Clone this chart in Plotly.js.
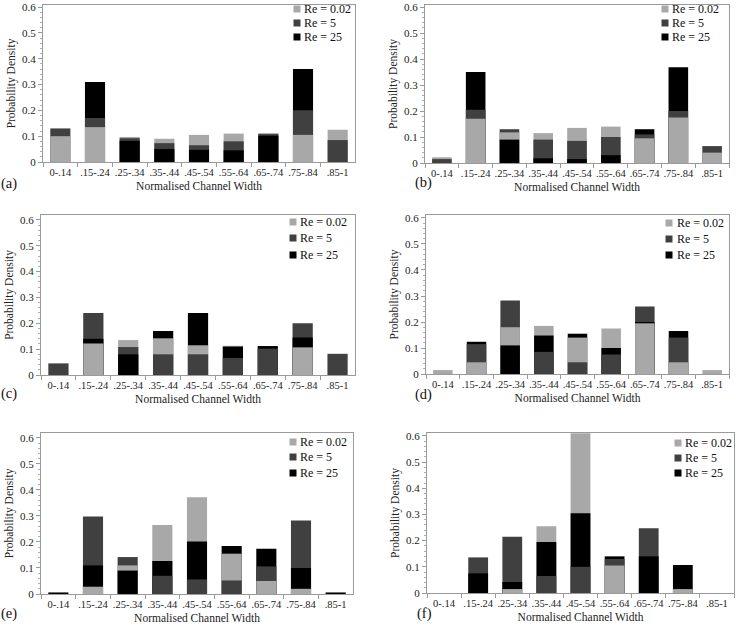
<!DOCTYPE html>
<html>
<head>
<meta charset="utf-8">
<script src="https://cdn.plot.ly/plotly-3.0.1.min.js"></script>
<style>html,body{margin:0;padding:0;background:#fff;}#chart{width:737px;height:628px;}</style>
</head>
<body>
<div id="chart"></div>
<script>
// ---- data ----
const categories = ['0-.14', '.15-.24', '.25-.34', '.35-.44', '.45-.54', '.55-.64', '.65-.74', '.75-.84', '.85-1'];
const seriesNames = ['Re = 0.02', 'Re = 5', 'Re = 25'];
const panelLabels = ['(a)', '(b)', '(c)', '(d)', '(e)', '(f)'];

const a_re002 = [0.100, 0.135, 0.097, 0.090, 0.105, 0.110, 0.112, 0.105, 0.125];
const a_re5   = [0.130, 0.170, 0.092, 0.073, 0.065, 0.080, 0.108, 0.200, 0.085];
const a_re25  = [0.000, 0.310, 0.082, 0.050, 0.047, 0.045, 0.102, 0.360, 0.000];

const b_re002 = [0.022, 0.170, 0.118, 0.115, 0.135, 0.140, 0.095, 0.175, 0.040];
const b_re5   = [0.015, 0.205, 0.130, 0.090, 0.085, 0.100, 0.110, 0.200, 0.065];
const b_re25  = [0.000, 0.350, 0.090, 0.018, 0.015, 0.030, 0.130, 0.368, 0.000];

const c_re002 = [0.000, 0.122, 0.135, 0.142, 0.115, 0.113, 0.000, 0.107, 0.000];
const c_re5   = [0.045, 0.240, 0.108, 0.080, 0.080, 0.066, 0.102, 0.200, 0.082];
const c_re25  = [0.000, 0.140, 0.080, 0.170, 0.240, 0.110, 0.112, 0.145, 0.000];

const d_re002 = [0.015, 0.045, 0.180, 0.185, 0.140, 0.175, 0.195, 0.045, 0.015];
const d_re5   = [0.000, 0.115, 0.283, 0.085, 0.045, 0.075, 0.260, 0.140, 0.000];
const d_re25  = [0.000, 0.124, 0.110, 0.148, 0.155, 0.100, 0.200, 0.165, 0.000];

const e_re002 = [0.000, 0.028, 0.110, 0.265, 0.372, 0.155, 0.050, 0.020, 0.000];
const e_re5   = [0.000, 0.298, 0.142, 0.070, 0.056, 0.052, 0.106, 0.283, 0.000];
const e_re25  = [0.006, 0.110, 0.090, 0.127, 0.202, 0.185, 0.174, 0.100, 0.006];

const f_re002 = [0.000, 0.000, 0.015, 0.255, 0.610, 0.105, 0.000, 0.015, 0.000];
const f_re5   = [0.000, 0.136, 0.215, 0.065, 0.100, 0.130, 0.247, 0.000, 0.000];
const f_re25  = [0.000, 0.075, 0.042, 0.195, 0.305, 0.140, 0.140, 0.107, 0.000];

const panelSeries = [
  [a_re002, a_re5, a_re25],
  [b_re002, b_re5, b_re25],
  [c_re002, c_re5, c_re25],
  [d_re002, d_re5, d_re25],
  [e_re002, e_re5, e_re25],
  [f_re002, f_re5, f_re25]
];

// ---- styling / layout ----
const colors = ['#a8a8a8', '#404040', '#000000'];
const FONT = '"Liberation Serif", "Times New Roman", Times, serif';
const W = 737, H = 628;
// plot-area boxes in pixels: [left, right, zeroY, topY, yMax]
const boxes = [
  [43, 355, 162, 5, 0.608],
  [425, 729, 163, 5, 0.608],
  [41, 355, 375, 215, 0.619],
  [426, 729, 374, 215, 0.6115],
  [41, 353, 594, 433, 0.619],
  [427, 734, 593, 433, 0.611]
];
// legend placement in pixels: [marker centre x, text left x, row centre ys]
const legendPos = [
  [297, 302, [9, 23, 37]],
  [665, 670, [9, 23, 37]],
  [293, 298, [222, 238, 255]],
  [669, 675, [223, 239, 255]],
  [293, 298, [442, 457, 473]],
  [678, 683, [443, 458, 473]]
];
const labelPos = [[9, 183], [423, 182], [9, 393], [423, 394], [9, 613], [424, 613]];

const traces = [];
const layout = {
  width: W, height: H,
  margin: {l: 0, r: 0, t: 0, b: 0},
  paper_bgcolor: '#ffffff',
  plot_bgcolor: '#ffffff',
  barmode: 'overlay',
  bargap: 0.42,
  font: {family: FONT, size: 11, color: '#222'},
  showlegend: false,
  annotations: [],
  shapes: []
};

panelSeries.forEach((series, p) => {
  const suf = p === 0 ? '' : String(p + 1);
  const xa = 'x' + suf, ya = 'y' + suf;
  const [l, r, z, t, ymax] = boxes[p];

  // overlay bars: per category the tallest is drawn first, the shortest in front
  for (let k = 0; k < 3; k++) {
    const ys = [], cs = [], names = [];
    categories.forEach((c, j) => {
      const vals = series.map((s, si) => ({v: s[j], c: colors[si], n: seriesNames[si]}));
      vals.sort((m, n) => n.v - m.v);
      ys.push(vals[k].v);
      cs.push(vals[k].c);
      names.push(vals[k].n);
    });
    traces.push({
      type: 'bar', x: categories, y: ys, xaxis: xa, yaxis: ya,
      text: names, textposition: 'none',
      marker: {color: cs, line: {width: 0}},
      showlegend: false, hoverinfo: 'x+y+text'
    });
  }

  layout['xaxis' + suf] = {
    domain: [l / W, r / W], anchor: ya,
    type: 'category', categoryorder: 'array', categoryarray: categories,
    range: [-0.5, 8.5],
    showline: true, linecolor: '#9a9a9a', linewidth: 1, mirror: true,
    ticks: 'outside', tickson: 'boundaries', ticklen: 4, tickcolor: '#9a9a9a',
    tickangle: 0,
    showgrid: false, zeroline: false,
    tickfont: {family: FONT, size: 10.5, color: '#222'},
    title: {text: 'Normalised Channel Width', font: {family: FONT, size: 11.5, color: '#222'}, standoff: 5}
  };
  layout['yaxis' + suf] = {
    domain: [1 - z / H, 1 - t / H], anchor: xa,
    range: [0, ymax],
    dtick: 0.1, tick0: 0,
    showline: true, linecolor: '#9a9a9a', linewidth: 1, mirror: true,
    ticks: 'outside', ticklen: 4, tickcolor: '#9a9a9a',
    minor: {dtick: 0.02, ticks: 'outside', ticklen: 2, tickcolor: '#b0b0b0'},
    showgrid: false, zeroline: false,
    tickfont: {family: FONT, size: 11, color: '#222'},
    title: {text: 'Probability Density', font: {family: FONT, size: 11.5, color: '#222'}, standoff: 4}
  };

  // legend: coloured squares + series names
  const [mx, tx, rows] = legendPos[p];
  rows.forEach((ry, si) => {
    layout.shapes.push({
      type: 'rect', xref: 'paper', yref: 'paper',
      x0: (mx - 3.5) / W, x1: (mx + 3.5) / W,
      y0: 1 - (ry + 3.5) / H, y1: 1 - (ry - 3.5) / H,
      fillcolor: colors[si], line: {width: 0}
    });
    layout.annotations.push({
      text: seriesNames[si], xref: 'paper', yref: 'paper',
      x: tx / W, y: 1 - ry / H, xanchor: 'left', yanchor: 'middle',
      showarrow: false, font: {family: FONT, size: 12, color: '#111'}
    });
  });

  const [lx, ly] = labelPos[p];
  layout.annotations.push({
    text: panelLabels[p], xref: 'paper', yref: 'paper',
    x: lx / W, y: 1 - ly / H, xanchor: 'center', yanchor: 'middle',
    showarrow: false, font: {family: FONT, size: 14.5, color: '#111'}
  });
});

Plotly.newPlot('chart', traces, layout, {displayModeBar: false, staticPlot: true});
</script>
</body>
</html>
